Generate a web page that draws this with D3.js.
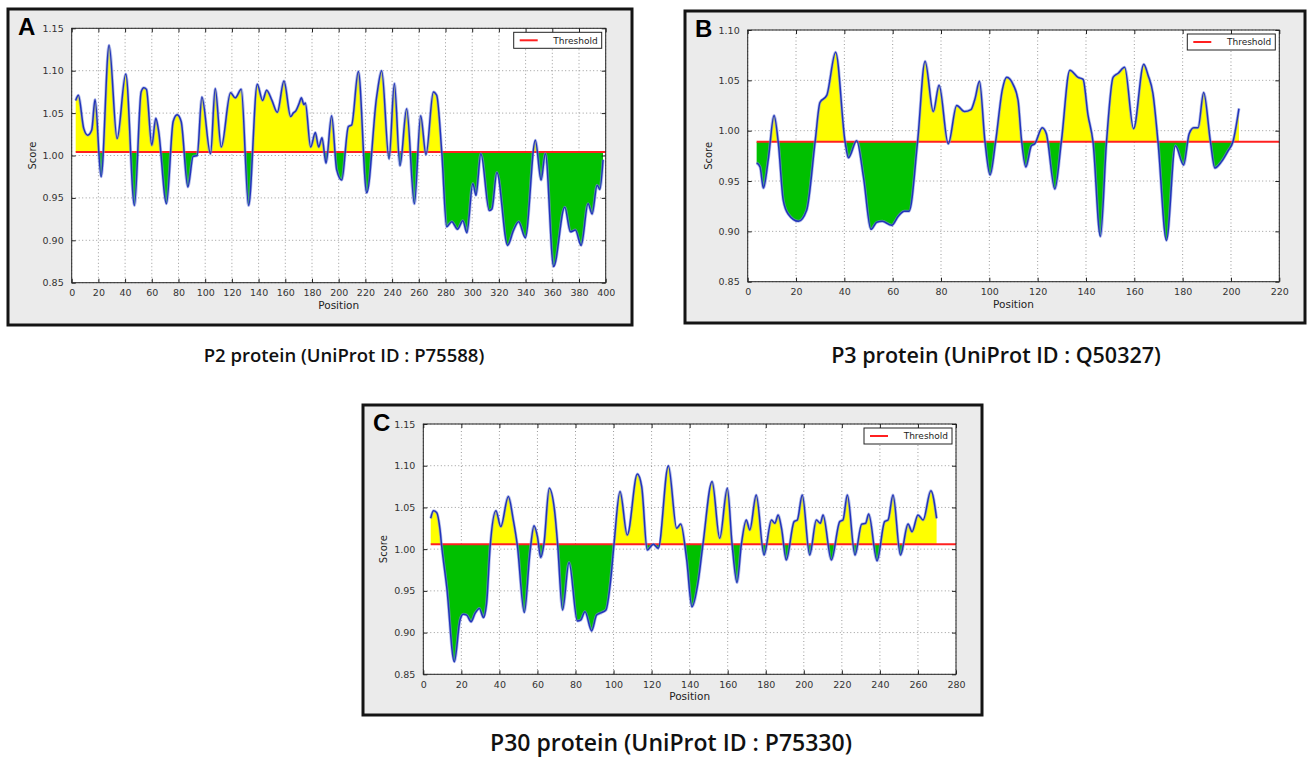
<!DOCTYPE html>
<html>
<head>
<meta charset="utf-8">
<script src="https://cdn.jsdelivr.net/npm/d3@7"></script>
<style>
  html, body { margin: 0; padding: 0; background: #ffffff; }
  svg { display: block; }
</style>
</head>
<body>
<svg id="chart" width="1307" height="757"></svg>
<script>
// ---------------- DATA ----------------
// Panel A : P2 protein (P75588)
const positionsA = [3,5,9,12,15,17.5,22,28,34,40.5,47,52,54,56,60,63,65,71,76,79,82,87,91,94,97.5,104,107.5,112,119,122.5,127,132.5,139,143,146,150,154,159,164,166,168,170.5,172,174,175,179,182.5,185,187.5,190.5,194.7,198.5,202.3,207.2,209.7,214.7,221,228.4,232.2,237.7,241.7,245.9,250.9,256.7,261.4,265.4,270.9,273.4,277.2,280.9,284.7,289,293,296,300.5,302.8,306.5,312.8,314.8,318.5,326.5,331,334.8,339.8,347.3,351.6,354.8,361,369.3,373.6,377.3,381.6,386.8,389.8,393.6,395.6,398];
const scoresA = [1.065,1.071,1.032,1.024,1.03,1.066,0.975,1.13,1.02,1.096,0.941,1.075,1.08,1.078,1.012,1.044,1.03,0.943,1.04,1.048,1.04,0.963,0.999,1.0,1.069,1.002,1.079,1.01,1.074,1.068,1.078,0.941,1.084,1.065,1.077,1.065,1.051,1.088,1.046,1.05,1.053,1.062,1.068,1.06,1.062,1.01,1.027,1.01,1.021,0.991,1.047,0.983,0.971,1.034,1.036,1.099,0.956,1.069,1.1,0.996,1.085,0.988,1.055,0.943,1.047,1.001,1.075,1.071,1.004,0.916,0.922,0.913,0.923,0.909,0.967,0.953,1.002,0.935,0.937,0.98,0.894,0.912,0.922,0.903,1.018,0.971,1.002,0.869,0.939,0.91,0.912,0.894,0.943,0.931,0.965,0.96,0.995];
const thresholdA = 1.004;

// Panel B : P3 protein (Q50327)
const positionsB = [3.7,5.1,6.5,8.5,10.9,12.7,14.7,16.8,21,24.4,27.9,29.9,32.7,36.4,40.3,41.7,45.1,47.9,51,53.4,55.7,59.6,62.3,64.8,66.8,70.3,73.4,76.8,79.2,83,86.5,89.7,92.4,94.1,95.9,98.2,100.3,102.6,105.4,107.2,110,111.9,113.3,115.1,117.4,118.8,121.9,123.6,127.1,129.8,133.3,136.7,138.8,140.8,142.9,145.95,148.5,151.2,153.3,156,159.7,163.9,165.7,167.7,169.8,173.3,177,180.4,182.7,184.6,186.4,188.7,191.5,193.3,196,198.8,200.8,203.3];
const scoresB = [0.968,0.964,0.943,0.971,1.015,0.987,0.931,0.917,0.91,0.921,0.989,1.028,1.035,1.078,0.989,0.973,0.99,0.954,0.902,0.909,0.91,0.906,0.915,0.92,0.92,0.989,1.069,1.019,1.045,0.987,1.025,1.019,1.021,1.032,1.049,0.989,0.956,0.989,1.041,1.053,1.045,1.03,0.991,0.964,0.985,0.987,1.003,0.997,0.942,0.989,1.06,1.053,1.051,1.016,0.989,0.895,0.989,1.053,1.057,1.063,1.002,1.066,1.055,1.037,0.989,0.891,0.985,0.966,0.997,1.003,1.003,1.038,0.989,0.963,0.969,0.98,0.989,1.022];
const thresholdB = 0.989;

// Panel C : P30 protein (P75330)
const positionsC = [3.9,5.3,7,8.8,9.6,12.3,16.3,19.3,21,22.8,25.1,27.2,29.5,31.6,33.3,35.1,38.2,40.7,44.7,47.3,49.4,53.1,56.1,58.2,60,61.7,63.4,66.2,69.2,70.6,73.2,76.6,81,82.7,85,88.5,91.1,93.7,96,98.5,100.2,103.4,107.2,112.5,114.8,117.7,120.9,123.5,128.8,133.2,135.3,138.4,141.2,144.4,147,151.8,155.8,159.8,162.3,164.9,167.2,169.8,171.6,175,179.1,183,184.8,186.5,188.3,190.8,194.9,196.6,199.2,203.1,206.6,208.7,210.1,214.5,218.9,220.6,222.9,226.9,230.4,232.5,234.1,238.5,242.5,244.3,246.9,250.8,254.8,256.9,260,262.7,266.8,269.8];
const scoresC = [1.037,1.046,1.044,1.023,1.005,0.955,0.865,0.915,0.922,0.921,0.913,0.923,0.929,0.918,0.936,1.002,1.046,1.027,1.063,1.035,1.005,0.924,0.997,1.028,1.015,0.99,1.006,1.073,1.042,1.006,0.927,0.984,0.914,0.915,0.925,0.902,0.921,0.924,0.927,0.963,1.005,1.069,1.017,1.09,1.075,0.999,1.006,1.001,1.1,1.025,1.03,0.988,0.931,0.96,1.006,1.081,1.013,1.073,1.006,0.96,1.006,1.035,1.023,1.065,0.993,1.035,1.031,1.041,1.025,0.987,1.033,1.035,1.065,0.993,1.035,1.031,1.041,0.987,1.033,1.035,1.065,0.993,1.03,1.031,1.042,0.986,1.033,1.035,1.065,0.993,1.03,1.021,1.041,1.035,1.07,1.037];
const thresholdC = 1.006;

const yTicksA = [0.85,0.90,0.95,1.00,1.05,1.10,1.15];
const yTicksB = [0.85,0.90,0.95,1.00,1.05,1.10];
const yTicksC = [0.85,0.90,0.95,1.00,1.05,1.10,1.15];
const xTicksA = d3.range(0, 401, 20);
const xTicksB = d3.range(0, 221, 20);
const xTicksC = d3.range(0, 281, 20);

const panelLetters = ["A","B","C"];
const captions = ["P2 protein (UniProt ID : P75588)", "P3 protein (UniProt ID : Q50327)", "P30 protein (UniProt ID : P75330)"];
const xTitle = "Position";
const yTitle = "Score";
const legendLabel = "Threshold";

// ---------------- LAYOUT ----------------
const panels = [
  { letter: panelLetters[0], caption: captions[0], pos: positionsA, val: scoresA, thr: thresholdA,
    frame: [8, 9, 632, 325], plot: [71.7, 28.3, 605.7, 282.7], xDom: [0, 400], yDom: [0.85, 1.15],
    xTicks: xTicksA, yTicks: yTicksA, capX: 344, capY: 362, capSize: 18.5 },
  { letter: panelLetters[1], caption: captions[1], pos: positionsB, val: scoresB, thr: thresholdB,
    frame: [685, 11, 1305, 323], plot: [747.7, 30, 1279.3, 281.7], xDom: [0, 220], yDom: [0.85, 1.10],
    xTicks: xTicksB, yTicks: yTicksB, capX: 996, capY: 363, capSize: 21.5 },
  { letter: panelLetters[2], caption: captions[2], pos: positionsC, val: scoresC, thr: thresholdC,
    frame: [363, 405, 982, 715], plot: [423.3, 424, 956, 674.3], xDom: [0, 280], yDom: [0.85, 1.15],
    xTicks: xTicksC, yTicks: yTicksC, capX: 671, capY: 751, capSize: 23 }
];

const svg = d3.select("#chart");
const tickFont = "'DejaVu Sans', sans-serif";

panels.forEach((p, i) => {
  const [fx0, fy0, fx1, fy1] = p.frame;
  const [px0, py0, px1, py1] = p.plot;
  const g = svg.append("g");

  g.append("rect").attr("x", fx0).attr("y", fy0).attr("width", fx1 - fx0).attr("height", fy1 - fy0)
    .attr("fill", "#ebebeb").attr("stroke", "#141414").attr("stroke-width", 3);

  const x = d3.scaleLinear().domain(p.xDom).range([px0, px1]);
  const y = d3.scaleLinear().domain(p.yDom).range([py1, py0]);

  g.append("rect").attr("x", px0).attr("y", py0).attr("width", px1 - px0).attr("height", py1 - py0)
    .attr("fill", "#ffffff");

  // grid
  const grid = g.append("g");
  p.xTicks.forEach(t => {
    grid.append("line").attr("x1", x(t)).attr("x2", x(t)).attr("y1", py0).attr("y2", py1)
      .attr("stroke", "#9a9a9a").attr("stroke-width", 1).attr("stroke-dasharray", "1,2.5");
  });
  p.yTicks.forEach(t => {
    grid.append("line").attr("x1", px0).attr("x2", px1).attr("y1", y(t)).attr("y2", y(t))
      .attr("stroke", "#9a9a9a").attr("stroke-width", 1).attr("stroke-dasharray", "1,2.5");
  });

  const data = p.pos.map((d, k) => [d, p.val[k]]);
  const yT = y(p.thr);
  const curve = d3.curveMonotoneX;

  const cidUp = "clipUp" + i, cidDn = "clipDn" + i;
  const defs = svg.append("defs");
  defs.append("clipPath").attr("id", cidUp).append("rect")
    .attr("x", px0).attr("y", py0).attr("width", px1 - px0).attr("height", yT - py0);
  defs.append("clipPath").attr("id", cidDn).append("rect")
    .attr("x", px0).attr("y", yT).attr("width", px1 - px0).attr("height", py1 - yT);

  const area = d3.area().x(d => x(d[0])).y0(yT).y1(d => y(d[1])).curve(curve);
  g.append("path").datum(data).attr("d", area).attr("fill", "#ffff00").attr("clip-path", `url(#${cidUp})`);
  g.append("path").datum(data).attr("d", area).attr("fill", "#00c000").attr("clip-path", `url(#${cidDn})`);

  // threshold
  g.append("line").attr("x1", x(p.pos[0])).attr("x2", px1).attr("y1", yT).attr("y2", yT)
    .attr("stroke", "#ff2020").attr("stroke-width", 2);

  // score line
  const line = d3.line().x(d => x(d[0])).y(d => y(d[1])).curve(curve);
  g.append("path").datum(data).attr("d", line).attr("fill", "none")
    .attr("stroke", "#7f8fe0").attr("stroke-width", 3).attr("stroke-opacity", 0.6).attr("stroke-linejoin", "round");
  g.append("path").datum(data).attr("d", line).attr("fill", "none")
    .attr("stroke", "#2233bb").attr("stroke-width", 1.5).attr("stroke-linejoin", "round");

  // axes (ticks inside, all four sides)
  const axB = d3.axisBottom(x).tickValues(p.xTicks).tickSizeInner(-4).tickSizeOuter(0).tickPadding(7).tickFormat(d3.format("d"));
  const axT = d3.axisTop(x).tickValues(p.xTicks).tickSizeInner(-4).tickSizeOuter(0).tickFormat("");
  const axL = d3.axisLeft(y).tickValues(p.yTicks).tickSizeInner(-4).tickSizeOuter(0).tickPadding(8).tickFormat(d3.format(".2f"));
  const axR = d3.axisRight(y).tickValues(p.yTicks).tickSizeInner(-4).tickSizeOuter(0).tickFormat("");
  const styleAxis = sel => {
    sel.select(".domain").remove();
    sel.selectAll(".tick line").attr("stroke", "#222");
    sel.selectAll(".tick text").attr("fill", "#333").style("font-family", tickFont).style("font-size", "9.5px");
  };
  g.append("g").attr("transform", `translate(0,${py1})`).call(axB).call(styleAxis);
  g.append("g").attr("transform", `translate(0,${py0})`).call(axT).call(styleAxis);
  g.append("g").attr("transform", `translate(${px0},0)`).call(axL).call(styleAxis);
  g.append("g").attr("transform", `translate(${px1},0)`).call(axR).call(styleAxis);

  g.append("rect").attr("x", px0).attr("y", py0).attr("width", px1 - px0).attr("height", py1 - py0)
    .attr("fill", "none").attr("stroke", "#222").attr("stroke-width", 1);

  // axis titles
  g.append("text").attr("x", (px0 + px1) / 2).attr("y", py1 + 26).attr("text-anchor", "middle")
    .style("font-family", tickFont).style("font-size", "10.5px").attr("fill", "#222").text(xTitle);
  g.append("text").attr("transform", `translate(${px0 - 36},${(py0 + py1) / 2}) rotate(-90)`)
    .attr("text-anchor", "middle").style("font-family", tickFont).style("font-size", "10px").attr("fill", "#222").text(yTitle);

  // legend
  const lw = 88, lh = 16;
  const lx = px1 - 4 - lw, ly = py0 + 4;
  g.append("rect").attr("x", lx).attr("y", ly).attr("width", lw).attr("height", lh)
    .attr("fill", "#ffffff").attr("stroke", "#222").attr("stroke-width", 1);
  g.append("line").attr("x1", lx + 6).attr("x2", lx + 24).attr("y1", ly + lh / 2).attr("y2", ly + lh / 2)
    .attr("stroke", "#ff2020").attr("stroke-width", 2);
  g.append("text").attr("x", lx + lw - 4).attr("y", ly + lh / 2 + 3.2).attr("text-anchor", "end")
    .style("font-family", tickFont).style("font-size", "9px").attr("fill", "#222").text(legendLabel);

  // panel letter
  g.append("text").attr("x", fx0 + 10).attr("y", fy0 + 26)
    .style("font-family", "'Liberation Sans', Arial, sans-serif").style("font-weight", "bold").style("font-size", "24px")
    .attr("fill", "#000").text(p.letter);

  // caption
  svg.append("text").attr("x", p.capX).attr("y", p.capY).attr("text-anchor", "middle")
    .style("font-family", "'Open Sans', sans-serif").style("font-weight", "600").style("font-size", p.capSize + "px")
    .attr("fill", "#111").text(p.caption);
});
</script>
</body>
</html>
